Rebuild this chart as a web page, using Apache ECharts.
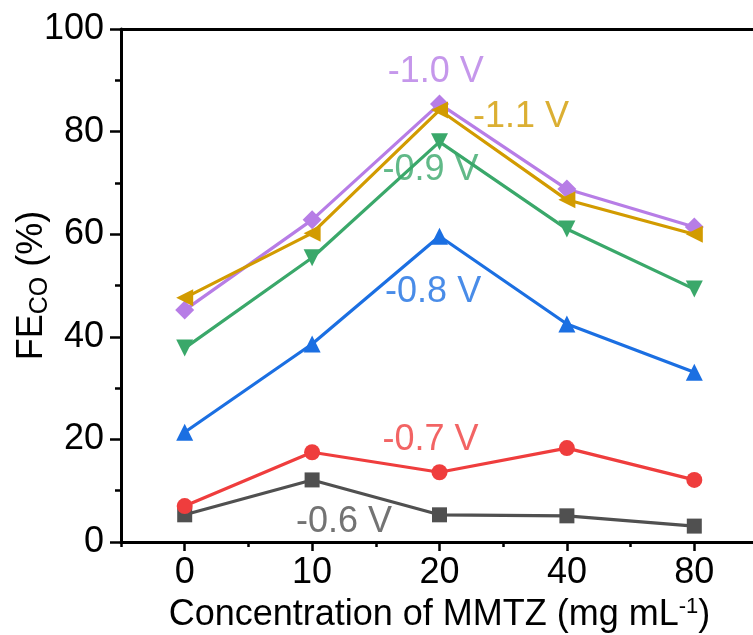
<!DOCTYPE html>
<html>
<head>
<meta charset="utf-8">
<script src="https://cdn.jsdelivr.net/npm/echarts@6/dist/echarts.min.js"></script>
<style>
  html, body { margin: 0; padding: 0; background: #fff; }
  #main { width: 753px; height: 635px; }
</style>
</head>
<body>
<div id="main"></div>
<script>
// 数据
var categories = ["0", "10", "20", "40", "80"];
var yTicks = [0, 20, 40, 60, 80, 100];
var fe06 = [5.3, 12.1, 5.3, 5.1, 3.1];
var fe07 = [7.0, 17.5, 13.6, 18.3, 12.1];
var fe08 = [21.4, 38.6, 59.6, 42.5, 33.1];
var fe09 = [37.8, 55.4, 78.0, 61.0, 49.3];
var fe10 = [45.2, 62.8, 85.4, 68.8, 61.4];
var fe11 = [47.6, 60.2, 84.2, 66.7, 60.0];
var seriesNames = ["-0.6 V", "-0.7 V", "-0.8 V", "-0.9 V", "-1.0 V", "-1.1 V"];
// 标注位置（按类别序号和数值）
var labelX = [1.25, 1.93, 1.95, 1.93, 1.97, 2.64];
var labelY = [3.9, 19.9, 48.7, 72.5, 91.6, 82.9];

var colors = ["#505050", "#ef3d3d", "#1b6fe2", "#3aa86a", "#b77de6", "#d29b00"];
var symbols = ["rect", "circle", "triangle", "triangle", "path://M0,10 L10,0 L20,10 L10,20 Z", "triangle"];
var symbolSizes = [15, 16, 17, 17, 19, 17];
var symbolRotates = [0, 0, 0, 180, 0, 90];
var allData = [fe06, fe07, fe08, fe09, fe10, fe11];

var chartDom = document.getElementById("main");
var myChart = echarts.init(chartDom);

var fontFam = "Liberation Sans, Arial, sans-serif";

var series = [];
for (var i = 0; i < 6; i++) {
  series.push({
    name: seriesNames[i],
    type: "line",
    xAxisIndex: 0,
    yAxisIndex: 0,
    data: allData[i],
    symbol: symbols[i],
    symbolSize: symbolSizes[i],
    symbolRotate: symbolRotates[i],
    showAllSymbol: true,
    lineStyle: { color: colors[i], width: 3.2 },
    itemStyle: { color: colors[i] },
    z: 2 + i
  });
}

// 文字标注，放在隐藏的数值轴上
var labelData = [];
for (var j = 0; j < 6; j++) {
  labelData.push({
    value: [labelX[j], labelY[j]],
    label: { color: colors[j], formatter: seriesNames[j] }
  });
}
series.push({
  type: "scatter",
  xAxisIndex: 3,
  yAxisIndex: 0,
  symbolSize: 0,
  silent: true,
  z: 20,
  label: {
    show: true,
    position: "inside",
    fontSize: 36,
    fontFamily: fontFam
  },
  data: labelData
});

var option = {
  animation: false,
  grid: {
    left: 121, top: 29, width: 637, height: 513,
    containLabel: false,
    outerBoundsMode: "none"
  },
  xAxis: [
    {
      type: "category",
      data: categories,
      boundaryGap: true,
      position: "bottom",
      axisLine: { show: true, onZero: false, lineStyle: { color: "#000", width: 3 } },
      axisTick: { show: true, alignWithLabel: true, length: 9, lineStyle: { color: "#000", width: 2.5 } },
      axisLabel: { color: "#000", fontSize: 36, margin: 13, fontFamily: fontFam },
      splitLine: { show: false },
      name: "{a|Concentration of MMTZ (mg mL}{s|-1}{a|)}",
      nameLocation: "middle",
      nameGap: 53,
      nameTextStyle: {
        rich: {
          a: { fontSize: 36, color: "#000", fontFamily: fontFam },
          s: { fontSize: 22, color: "#000", fontFamily: fontFam, verticalAlign: "top", padding: [0, 0, 16, 0] }
        }
      }
    },
    {
      // 次刻度
      type: "category",
      data: categories,
      boundaryGap: true,
      position: "bottom",
      axisLine: { show: false, onZero: false },
      axisTick: { show: true, length: 5, lineStyle: { color: "#000", width: 2.5 } },
      axisLabel: { show: false },
      splitLine: { show: false }
    },
    {
      // 上边框
      type: "category",
      data: categories,
      position: "top",
      axisLine: { show: true, onZero: false, lineStyle: { color: "#000", width: 3 } },
      axisTick: { show: false },
      axisLabel: { show: false },
      splitLine: { show: false }
    },
    {
      // 标注用数值轴
      type: "value",
      min: -0.5,
      max: categories.length - 0.5,
      show: false
    }
  ],
  yAxis: {
    type: "value",
    min: yTicks[0],
    max: yTicks[yTicks.length - 1],
    interval: 20,
    axisLine: { show: true, onZero: false, lineStyle: { color: "#000", width: 3 } },
    axisTick: { show: true, length: 11, lineStyle: { color: "#000", width: 2.5 } },
    minorTick: { show: true, splitNumber: 2, length: 6, lineStyle: { color: "#000", width: 2.5 } },
    axisLabel: { color: "#000", fontSize: 36, margin: 17, fontFamily: fontFam },
    splitLine: { show: false },
    name: "{a|FE}{s|CO}{a| (%)}",
    nameLocation: "middle",
    nameRotate: 90,
    nameGap: 68,
    nameMoveOverlap: false,
    nameTextStyle: {
      rich: {
        a: { fontSize: 36, color: "#000", fontFamily: fontFam },
        s: { fontSize: 25, color: "#000", fontFamily: fontFam, verticalAlign: "bottom", padding: [16, 0, 0, 0] }
      }
    }
  },
  series: series
};

myChart.setOption(option);
window.addEventListener("resize", function () {
  myChart.resize();
});
</script>
</body>
</html>
